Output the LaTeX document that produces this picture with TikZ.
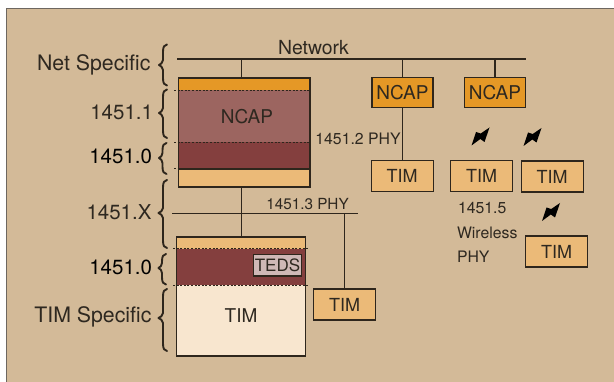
\documentclass[tikz,border=0pt]{standalone}
\usepackage{fontspec}
\setmainfont{TeX Gyre Heros}
\definecolor{bgc}{HTML}{D3BA98}
\definecolor{orng}{HTML}{E59826}
\definecolor{mauve}{HTML}{9C6560}
\definecolor{dred}{HTML}{843F3E}
\definecolor{lorng}{HTML}{EBBA78}
\definecolor{cream}{HTML}{F8E6CF}
\definecolor{tedsc}{HTML}{CFB8B6}
\definecolor{ink}{HTML}{2E261C}
\definecolor{txt}{HTML}{2E2820}
\newcommand{\lbrc}[5]{% x, top, tip, bottom, width
  \draw[bracel] (#1+#5,#2) .. controls (#1+#5-2.5,#2) and (#1+#5-4,#2+2.5) .. (#1+#5-4,#2+7)
    -- (#1+#5-4,#3-5) .. controls (#1+#5-4,#3-2) and (#1+1.5,#3-1) .. (#1,#3)
    .. controls (#1+1.5,#3+1) and (#1+#5-4,#3+2) .. (#1+#5-4,#3+5)
    -- (#1+#5-4,#4-7) .. controls (#1+#5-4,#4-2.5) and (#1+#5-2.5,#4) .. (#1+#5,#4);}
\newcommand{\bolt}[2]{%
  \fill[black,shift={(#1,#2)}] (-9,9) -- (-4.5,-4.5) -- (0.2,-3) -- (9,-9)
     -- (4,5.5) -- (-0.2,2.5) -- cycle;}
\tikzset{
  x=1pt,y=-1pt,
  box/.style={draw=ink,line width=1.3pt,inner sep=0pt,outer sep=0pt,text=txt,font=\fontsize{18}{20}\selectfont},
  ncapbox/.style={box,fill=orng,minimum width=61pt,minimum height=30pt,font=\fontsize{19}{20}\selectfont},
  timbox/.style={box,fill=lorng,minimum width=62pt,minimum height=31pt},
  band/.style={inner sep=0pt,outer sep=0pt,text=txt,font=\fontsize{19}{20}\selectfont},
  frameb/.style={draw=ink,line width=1.3pt,inner sep=0pt,outer sep=0pt},
  wire/.style={draw=ink,line width=1.3pt},
  dotl/.style={draw=ink,line width=1pt,dash pattern=on 2pt off 1.6pt},
  lab/.style={inner sep=0pt,outer sep=0pt,text=txt,font=\fontsize{21.3}{24}\selectfont,anchor=east},
  numlab/.style={lab,font=\fontsize{20.5}{24}\selectfont},
  labb/.style={numlab,text=black},
  phy/.style={inner sep=0pt,outer sep=0pt,text=txt,font=\fontsize{15.8}{18}\selectfont},
  bracel/.style={draw=ink,line width=1.9pt,line cap=round,line join=round},
}
\begin{document}
\begin{tikzpicture}
\useasboundingbox (0,0) rectangle (614,382);
\fill[white] (0,0) rectangle (614,382);
\fill[bgc] (6,9) rectangle (614,382);
\draw[draw=ink!70!white,line width=1pt] (6,382) -- (6,9) -- (614,9);

% Bands of the NCAP stack
\fill[orng] (178.5,78) rectangle (310,90.5);
\fill[mauve] (178.5,90.5) rectangle (310,142.5);
\fill[dred] (178.5,142.5) rectangle (310,169);
\fill[lorng] (178.5,169) rectangle (310,187);
\node[frameb,minimum width=131.5pt,minimum height=109pt] (stackn) at (244.25,132.5) {};
\node[band] (ncapt) at (247,117) {NCAP};
\draw[dotl] (174,90.5) -- (310,90.5);
\draw[dotl] (174,142.5) -- (310,142.5);
\draw[dotl] (174,169) -- (178,169);
\draw[wire] (178.5,169) -- (310,169);

% Bands of the TIM stack
\fill[lorng] (176.5,237) rectangle (305.5,249);
\fill[dred] (176.5,249) rectangle (305.5,285.5);
\fill[cream] (176.5,285.5) rectangle (305.5,356);
\node[frameb,minimum width=129pt,minimum height=119pt] (stackt) at (241,296.5) {};
\node[band] (timt) at (241,316) {TIM};
\draw[dotl] (173,249) -- (308,249);
\draw[dotl] (173,285.5) -- (308,285.5);
\node[box,fill=tedsc,minimum width=48pt,minimum height=21.5pt,font=\fontsize{17}{18}\selectfont] (teds) at (277.5,265.2) {TEDS};

% Boxes
\node[ncapbox] (n2) at (402.5,92.5) {NCAP};
\node[ncapbox] (n3) at (495,92.5) {NCAP};
\node[timbox] (t2) at (402.2,176) {TIM};
\node[timbox] (t3) at (481.5,176) {TIM};
\node[timbox] (t4) at (552.2,176.5) {TIM};
\node[timbox] (t5) at (556.5,251.5) {TIM};
\node[timbox] (t1) at (344.5,304.5) {TIM};

% Wires
\coordinate (netl) at (177,59);
\coordinate (netr) at (526,59);
\coordinate (phyl) at (172,213.7);
\coordinate (phyr) at (358,213.7);
\draw[wire] (netl) -- (netr);
\draw[wire] (phyl) -- (phyr);
\draw[wire] (241.5,59) -- (241.5,78);
\draw[wire] (241.5,187) -- (241.5,237);
\draw[wire] (n2.north) -- (n2.north |- netl);
\draw[wire] (n3.north) -- (n3.north |- netl);
\draw[wire] (n2.south) -- (t2.north -| n2.south);
\draw[wire] (t1.north) -- (t1.north |- phyl);

% Text
\node[phy,font=\fontsize{19.4}{21}\selectfont] (netw) at (313.5,48) {Network};
\node[phy] (p2) at (358,139) {1451.2 PHY};
\node[phy,font=\fontsize{15.3}{18}\selectfont] (p3) at (307.5,204) {1451.3 PHY};
\node[phy,anchor=west] (w1) at (458,208.5) {1451.5};
\node[phy,anchor=west] (w2) at (457,232.5) {Wireless};
\node[phy,anchor=west] (w3) at (457,256.5) {PHY};

\node[lab] (l1) at (150.5,65) {Net Specific};
\node[numlab] (l2) at (153,112) {1451.1};
\node[labb] (l3) at (152,156) {1451.0};
\node[numlab] (l4) at (151.5,212) {1451.X};
\node[labb] (l5) at (152,267) {1451.0};
\node[lab] (l6) at (151.5,317) {TIM Specific};

% Braces
\lbrc{159}{44.5}{65}{85.5}{8}
\lbrc{159}{89.5}{113}{138}{8}
\lbrc{159}{143}{158}{174}{7.5}
\lbrc{158.5}{180}{213}{248}{8.5}
\lbrc{158.5}{254}{268}{284.5}{7.5}
\lbrc{158.5}{289}{318}{351}{8.5}

% Wireless bolts
\bolt{480.5}{136.5}
\bolt{532.5}{137}
\bolt{551}{212}
\end{tikzpicture}
\end{document}
